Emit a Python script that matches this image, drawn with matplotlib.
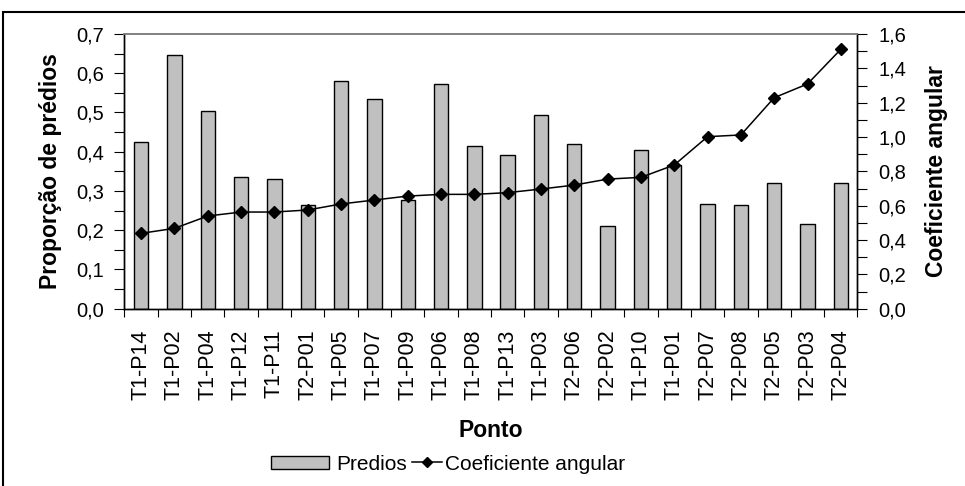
import matplotlib
matplotlib.use("Agg")
import matplotlib.pyplot as plt
from matplotlib.ticker import MultipleLocator, FuncFormatter, FixedLocator
from matplotlib.lines import Line2D
from matplotlib.patches import Rectangle

plt.rcParams['font.family'] = ['Liberation Sans', 'DejaVu Sans']

pontos = ["T1-P14", "T1-P02", "T1-P04", "T1-P12", "T1-P11", "T2-P01", "T1-P05",
          "T1-P07", "T1-P09", "T1-P06", "T1-P08", "T1-P13", "T1-P03", "T2-P06",
          "T2-P02", "T1-P10", "T1-P01", "T2-P07", "T2-P08", "T2-P05", "T2-P03",
          "T2-P04"]
predios = [0.425, 0.647, 0.504, 0.336, 0.330, 0.263, 0.579, 0.534, 0.277, 0.573,
           0.415, 0.391, 0.494, 0.420, 0.212, 0.404, 0.366, 0.268, 0.263, 0.321,
           0.217, 0.321]
coeficiente = [0.439, 0.468, 0.540, 0.563, 0.563, 0.575, 0.610, 0.633, 0.656, 0.666,
               0.666, 0.676, 0.697, 0.720, 0.755, 0.765, 0.837, 1.002, 1.012, 1.229,
               1.309, 1.511]

W, H = 965, 486
fig = plt.figure(figsize=(W / 100, H / 100), dpi=100)

# outer chart border (runs off the right and bottom edges)
fig.patches.append(Rectangle((3 / W, -0.05), 1.1, 1 - 12 / H + 0.05,
                             transform=fig.transFigure, fill=False,
                             edgecolor='black', linewidth=1.5))

left, right, top, bottom = 124.5, 857.5, 34, 308.7
ax = fig.add_axes([left / W, 1 - bottom / H, (right - left) / W, (bottom - top) / H])
ax2 = ax.twinx()

x = list(range(len(pontos)))
ax.bar(x, predios, width=0.43, color='#C0C0C0', edgecolor='black', linewidth=1.0,
       zorder=2)
ax2.plot(x, coeficiente, color='black', linewidth=1.1, marker='D', markersize=6,
         markerfacecolor='black', markeredgecolor='black', zorder=3)

ax.set_xlim(-0.5, len(pontos) - 0.5)
ax.set_ylim(0, 0.7)
ax2.set_ylim(0, 1.6)

comma = lambda fmt: FuncFormatter(lambda v, p: (fmt % v).replace('.', ','))
ax.yaxis.set_major_locator(MultipleLocator(0.1))
ax.yaxis.set_minor_locator(MultipleLocator(0.05))
ax.yaxis.set_major_formatter(comma('%.1f'))
ax2.yaxis.set_major_locator(MultipleLocator(0.2))
ax2.yaxis.set_minor_locator(MultipleLocator(0.1))
ax2.yaxis.set_major_formatter(comma('%.1f'))

ax.set_xticks(x)
ax.set_xticklabels(pontos, rotation=90, fontsize=15.5)
ax.tick_params(axis='x', length=0, pad=15)
ax.xaxis.set_minor_locator(FixedLocator([i - 0.5 for i in range(len(pontos) + 1)]))
ax.tick_params(axis='x', which='minor', length=6, width=0.8, color='black')

ax.tick_params(axis='y', which='major', length=7, width=0.8, labelsize=14.5, pad=8)
ax.tick_params(axis='y', which='minor', length=7, width=0.8)
ax2.tick_params(axis='y', which='major', length=7, width=0.8, labelsize=14.5, pad=8)
ax2.tick_params(axis='y', which='minor', length=7, width=0.8)

for a in (ax, ax2):
    a.spines['top'].set_color('#808080')
    a.spines['top'].set_linewidth(1.2)
    for s in ('left', 'right', 'bottom'):
        a.spines[s].set_linewidth(1.0)
        a.spines[s].set_color('black')

ymid = 1 - (top + bottom) / 2 / H
fig.text(51 / W, ymid, 'Proporção de prédios', fontsize=16.5, fontweight='bold',
         rotation=90, ha='center', va='center')
fig.text(937 / W, ymid, 'Coeficiente angular', fontsize=16.5, fontweight='bold',
         rotation=90, ha='center', va='center')
fig.text(491 / W, 1 - 430 / H, 'Ponto', fontsize=16.5,
         fontweight='bold', ha='center', va='center')

leg_y = 1 - 464 / H
bar_handle = Rectangle((0, 0), 1, 1, facecolor='#C0C0C0', edgecolor='black', linewidth=1.0)
line_handle = Line2D([], [], color='black', linewidth=1.1, marker='D', markersize=5)
fig.legend([bar_handle], ['Predios'], loc='center left',
           bbox_to_anchor=(271 / W, leg_y), frameon=False, fontsize=15,
           handlelength=2.8, handleheight=0.6, handletextpad=0.35,
           borderpad=0, borderaxespad=0)
fig.legend([line_handle], ['Coeficiente angular'], loc='center left',
           bbox_to_anchor=(412 / W, leg_y), frameon=False, fontsize=15,
           handlelength=1.45, handletextpad=0.15, borderpad=0, borderaxespad=0)

fig.savefig('out.png', dpi=100)
